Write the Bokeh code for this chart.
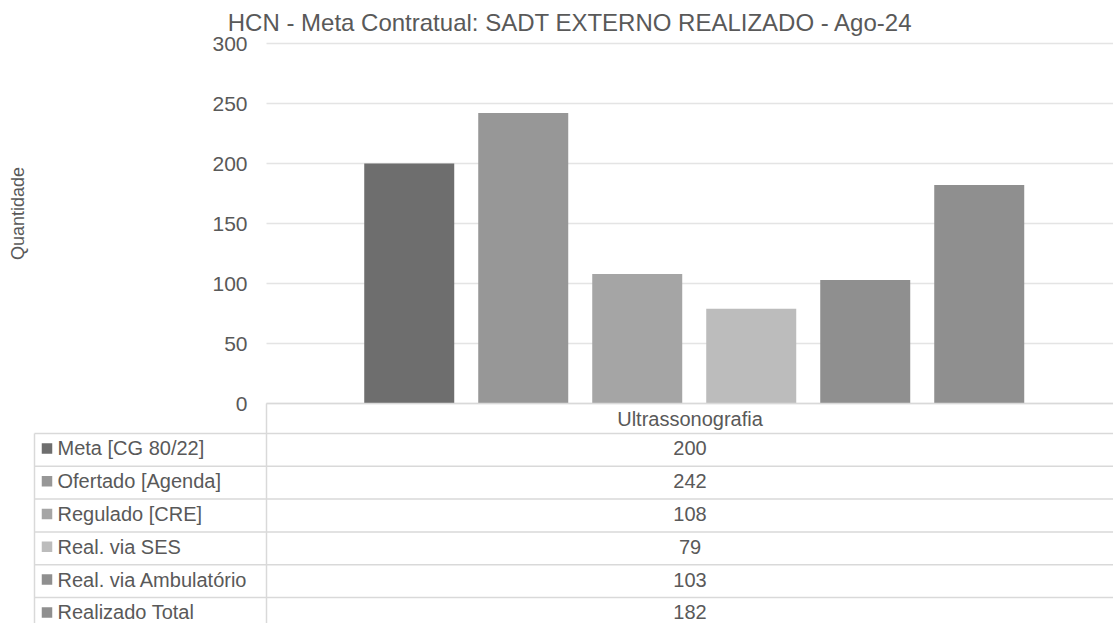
import math
from bokeh.plotting import figure
from bokeh.models import Range1d, ColumnDataSource
from bokeh.embed import file_html
from bokeh.resources import INLINE
from bokeh.core.properties import value

# ---------------- data ----------------
title_text = "HCN - Meta Contratual: SADT EXTERNO REALIZADO - Ago-24"
category = "Ultrassonografia"
series = ["Meta [CG 80/22]", "Ofertado [Agenda]", "Regulado [CRE]",
          "Real. via SES", "Real. via Ambulatório", "Realizado Total"]
values = [200, 242, 108, 79, 103, 182]
colors = ["#6e6e6e", "#979797", "#a5a5a5", "#bcbcbc", "#8f8f8f", "#8f8f8f"]
y_ticks = [0, 50, 100, 150, 200, 250, 300]
y_label = "Quantidade"

# ---------------- layout (page pixel geometry) ----------------
FONT = "Liberation Sans"
TXT = "#595959"
GRID = "#e4e4e4"
LINE = "#d9d9d9"
W, H = 1113, 623
OX, OY = 0, 0                 # page offset of the canvas
BAND_L, BAND_W = 266, 847     # category band (page px)
ZERO_Y, PXU = 403, 1.2        # page y of value 0, px per unit
HEADER_U = 25                 # header row height (value units)
GROUP_C = 0.505
PITCH = 114 / BAND_W
BAR_W = 90 / BAND_W
TAB_L = 34
ROW0 = ZERO_Y + HEADER_U * PXU
RH = 32.8

p = figure(width=W, height=H,
           x_range=Range1d(OX, OX + W), y_range=Range1d(-(OY + H), -OY),
           output_backend="svg", toolbar_location=None,
           x_axis_location=None, y_axis_location=None,
           min_border_left=0, min_border_right=0, min_border_top=0, min_border_bottom=0)
p.outline_line_color = None
p.xgrid.visible = False
p.ygrid.visible = False
p.extra_x_ranges = {"cat": Range1d((OX - BAND_L) / BAND_W, (OX + W - BAND_L) / BAND_W)}
p.extra_y_ranges = {"val": Range1d((ZERO_Y - OY - H) / PXU, (ZERO_Y - OY) / PXU)}
cat_end = (OX + W - BAND_L) / BAND_W

# grid lines of the value axis
n_t = len(y_ticks)
p.segment(x0=[0] * n_t, x1=[cat_end] * n_t, y0=y_ticks, y1=y_ticks,
          line_color=GRID, line_width=1.5, x_range_name="cat", y_range_name="val")

# bars
xs = [GROUP_C + (i - (len(values) - 1) / 2) * PITCH for i in range(len(values))]
src = ColumnDataSource(dict(x=xs, top=values, color=colors))
p.vbar(x="x", top="top", bottom=0, width=BAR_W, fill_color="color", line_color=None,
       source=src, x_range_name="cat", y_range_name="val")

# value-axis tick labels
p.text(x=[247] * n_t, y=y_ticks, text=[str(t) for t in y_ticks], text_align="right",
       text_baseline="middle", text_font=value(FONT), text_font_size="21px",
       text_color=TXT, y_range_name="val")

# axis title
p.text(x=[17], y=[-213], text=[y_label], angle=math.pi / 2, text_align="center",
       text_baseline="middle", text_font=value(FONT), text_font_size="18px",
       text_color=TXT)

# chart title
p.text(x=[570], y=[-21.5], text=[title_text], text_align="center",
       text_baseline="middle", text_font=value(FONT), text_font_size="24px",
       text_color=TXT)

# ---------------- data table ----------------
n = len(series)
# header row
p.text(x=[0.5], y=[-HEADER_U / 2], text=[category], text_align="center",
       text_baseline="middle", text_font=value(FONT), text_font_size="20px",
       text_color=TXT, x_range_name="cat", y_range_name="val")
p.segment(x0=[0], y0=[0], x1=[cat_end], y1=[0], line_color=LINE, line_width=1.5,
          x_range_name="cat", y_range_name="val")
row_lines = [-(ROW0 + i * RH) for i in range(n + 1)]
p.segment(x0=[TAB_L] * (n + 1), x1=[OX + W] * (n + 1), y0=row_lines, y1=row_lines,
          line_color=LINE, line_width=1.5)
p.segment(x0=[TAB_L, BAND_L], x1=[TAB_L, BAND_L], y0=[-ROW0, -ZERO_Y],
          y1=[-(ROW0 + n * RH + 20)] * 2, line_color=LINE, line_width=1.5)

row_c = [-(ROW0 + (i + 0.5) * RH - 1.5) for i in range(n)]
tsrc = ColumnDataSource(dict(y=row_c, name=series, color=colors,
                             val=[str(v) for v in values]))
p.rect(x=TAB_L + 12.5, y="y", width=10.5, height=10.5, fill_color="color",
       line_color=None, source=tsrc)
p.text(x=TAB_L + 23, y="y", text="name", text_align="left", text_baseline="middle",
       text_font=value(FONT), text_font_size="20px", text_color=TXT, source=tsrc)
p.text(x=BAND_L + 0.5 * BAND_W, y="y", text="val", text_align="center",
       text_baseline="middle", text_font=value(FONT), text_font_size="20px",
       text_color=TXT, source=tsrc)

open("out.html", "w").write(file_html(p, INLINE))
